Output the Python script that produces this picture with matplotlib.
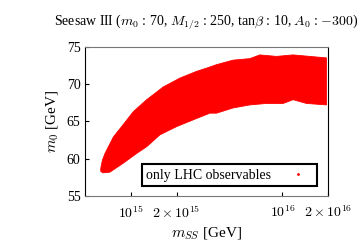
import numpy as np
import matplotlib
matplotlib.use('Agg')
import matplotlib.pyplot as plt

plt.rcParams['font.family'] = ['Liberation Serif', 'DejaVu Serif']
plt.rcParams['mathtext.fontset'] = 'cm'

# upper edge of the scanned points (log10 m_SS, m0)
log_mss_up = [14.801, 14.812, 14.829, 14.884, 14.939, 15.016, 15.104, 15.213, 15.324,
              15.434, 15.510, 15.566, 15.675, 15.785, 15.851, 15.961, 16.071,
              16.181, 16.291]
m0_up = [58.7, 59.8, 60.7, 62.9, 64.3, 66.3, 67.9, 69.6, 70.8, 71.7, 72.2, 72.6,
         73.2, 73.4, 73.9, 73.7, 73.9, 73.7, 73.5]

# lower edge
log_mss_lo = [14.801, 14.815, 14.862, 14.950, 15.038, 15.104, 15.192, 15.302,
              15.411, 15.522, 15.566, 15.675, 15.785, 15.895, 16.005, 16.071,
              16.159, 16.291]
m0_lo = [58.3, 58.1, 58.2, 59.4, 60.7, 61.6, 63.2, 64.3, 65.2, 66.1, 66.1,
         66.8, 67.2, 67.4, 67.4, 67.9, 67.4, 67.2]

xticks = [1e15, 2e15, 1e16, 2e16]
xticklabels = [r'$10^{15}$', r'$2\times10^{15}$', r'$10^{16}$', r'$2\times10^{16}$']
yticks = [55, 60, 65, 70, 75]

fig = plt.figure(figsize=(3.61, 2.47), dpi=100)
ax = fig.add_axes([85.3/361, 1-196/247, 242.7/361, 149.3/247])

xs = np.concatenate([10**np.array(log_mss_up), 10**np.array(log_mss_lo)[::-1]])
ys = np.concatenate([m0_up, m0_lo[::-1]])
ax.set_xscale('log')
ax.fill(xs, ys, color='red', edgecolor='red', lw=0.6, zorder=2)
ax.plot([], [], ls='none', marker='.', ms=2, color='red', label='only LHC observables')

ax.set_xlim(5e14, 2e16)
ax.set_ylim(55, 75)
ax.set_xticks(xticks)
ax.set_xticklabels(xticklabels)
ax.xaxis.set_minor_locator(matplotlib.ticker.NullLocator())
ax.set_yticks(yticks)
ax.tick_params(direction='in', length=3, labelsize=10, width=0.8)
ax.tick_params(axis='x', pad=6)

for s in ['top', 'bottom']:
    ax.spines[s].set_color('#777777')
for s in ['left', 'right']:
    ax.spines[s].set_color('black')

ax.set_title(r'Seesaw III ($m_0$ : 70, $M_{1/2}$ : 250, tan$\beta$ : 10, $A_0$ : $-300$)',
             fontsize=10, pad=15)
ax.set_xlabel(r'$m_{SS}$ [GeV]', fontsize=11)
ax.set_ylabel(r'$m_0$ [GeV]', fontsize=11)

leg = ax.legend(loc='lower right', bbox_to_anchor=(0.956, 0.069), fontsize=10,
                markerfirst=False, fancybox=False, framealpha=1, borderaxespad=0,
                handlelength=2.2, borderpad=0.3)
leg.get_frame().set_edgecolor('black')
leg.get_frame().set_linewidth(1.5)

fig.savefig('out.png', dpi=100)
